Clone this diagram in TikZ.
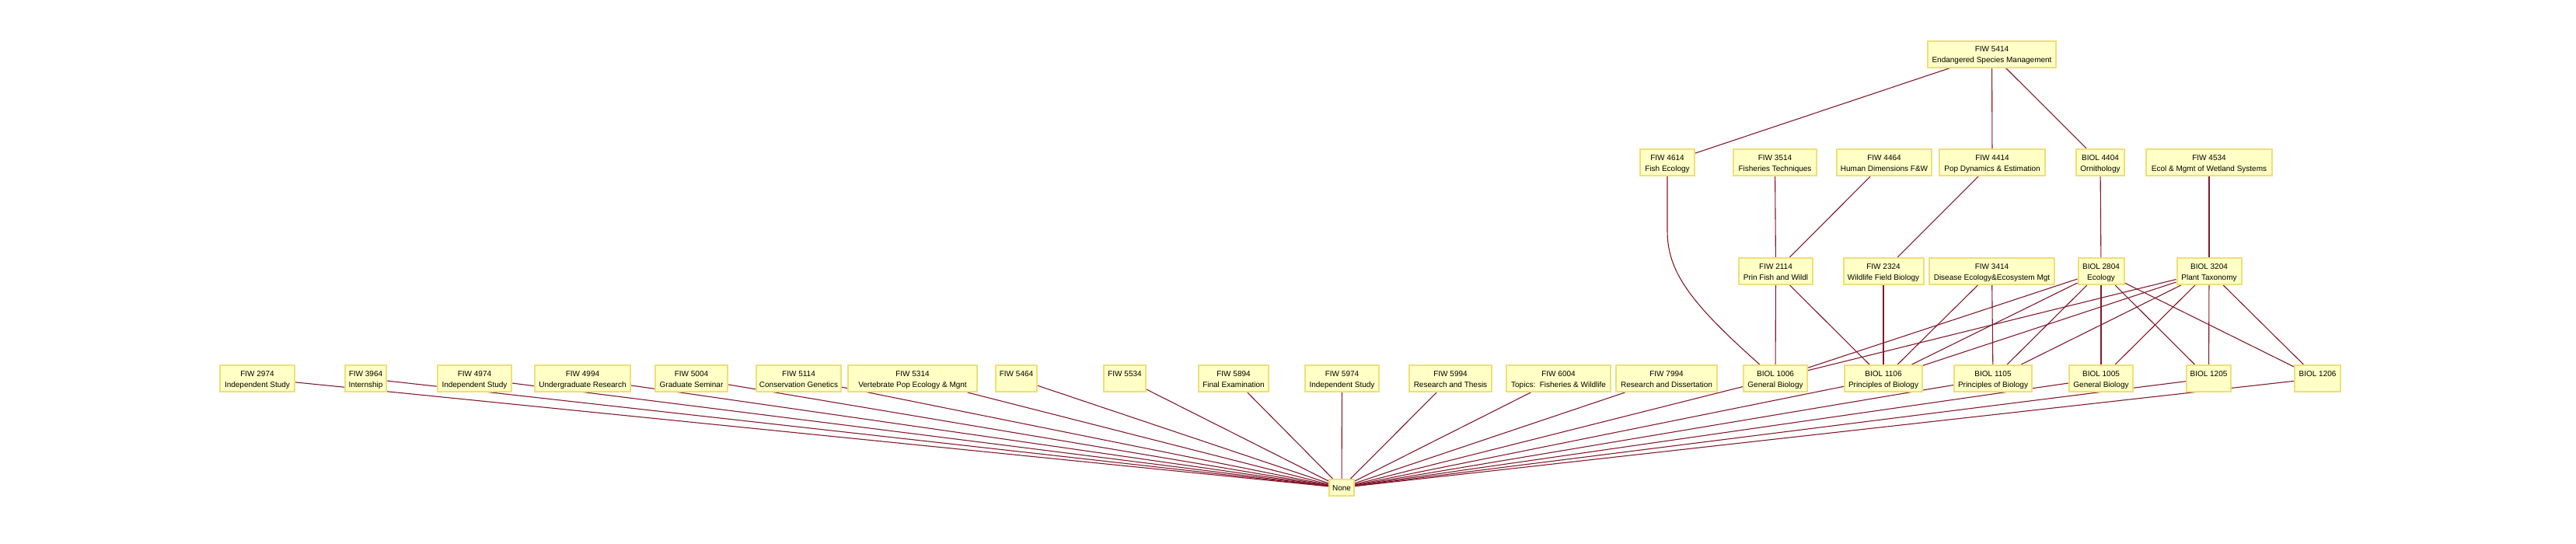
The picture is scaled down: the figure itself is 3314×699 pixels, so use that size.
\documentclass[tikz,border=0pt]{standalone}
\usepackage{fontspec}
\setmainfont{Liberation Sans}
\definecolor{boxfill}{RGB}{255,255,198}
\definecolor{boxline}{RGB}{240,222,120}
\definecolor{edgecol}{RGB}{130,25,45}
\newcommand\cst{\rule[-3pt]{0pt}{14pt}}
\pgfdeclarelayer{background}
\pgfsetlayers{background,main}
\tikzset{
  course/.style={draw=boxline, fill=boxfill, line width=2pt, rectangle, inner sep=0pt,
    minimum height=34pt, align=center, font=\fontsize{10}{14}\selectfont},
  edge/.style={draw=edgecol, line width=1.1pt}
}
\newcommand\crs[6]{\node[course, minimum width=#4pt-2pt] (#1) at (#2,#3) {\cst #5\\\cst #6};}
\begin{document}
\begin{tikzpicture}[x=1pt,y=-1pt]
\useasboundingbox (0,0) rectangle (3314,699);
% top
\crs{f5414}{2562.5}{69.5}{167}{FIW 5414}{Endangered Species Management}
% row 2
\crs{f4614}{2145}{209}{72}{FIW 4614}{Fish Ecology}
\crs{f3514}{2283.5}{209}{109}{FIW 3514}{Fisheries Techniques}
\crs{f4464}{2424}{209}{124}{FIW 4464}{Human Dimensions F\&W}
\crs{f4414}{2563}{209}{138}{FIW 4414}{Pop Dynamics \& Estimation}
\crs{b4404}{2702}{209}{64}{BIOL 4404}{Ornithology}
\crs{f4534}{2842}{209}{164}{FIW 4534}{Ecol \& Mgmt of Wetland Systems}
% row 3
\crs{f2114}{2284.5}{349}{97}{FIW 2114}{Prin Fish and Wildl}
\crs{f2324}{2423}{349}{105}{FIW 2324}{Wildlife Field Biology}
\crs{f3414}{2562.5}{349}{163}{FIW 3414}{Disease Ecology\&Ecosystem Mgt}
\crs{b2804}{2703}{349}{61}{BIOL 2804}{Ecology}
\crs{b3204}{2842}{349}{85}{BIOL 3204}{Plant Taxonomy}
% row 4
\crs{f2974}{331}{487}{98}{FIW 2974}{Independent Study}
\crs{f3964}{470.5}{487}{55}{FIW 3964}{Internship}
\crs{f4974}{610.5}{487}{97}{FIW 4974}{Independent Study}
\crs{f4994}{749.5}{487}{125}{FIW 4994}{Undergraduate Research}
\crs{f5004}{889.5}{487}{95}{FIW 5004}{Graduate Seminar}
\crs{f5114}{1027.5}{487}{111}{FIW 5114}{Conservation Genetics}
\crs{f5314}{1174}{487}{168}{FIW 5314}{Vertebrate Pop Ecology \& Mgnt}
\crs{f5464}{1307.5}{487}{55}{FIW 5464}{}
\crs{f5534}{1447}{487}{56}{FIW 5534}{}
\crs{f5894}{1587}{487}{92}{FIW 5894}{Final Examination}
\crs{f5974}{1726.5}{487}{97}{FIW 5974}{Independent Study}
\crs{f5994}{1866}{487}{108}{FIW 5994}{Research and Thesis}
\crs{f6004}{2005}{487}{136}{FIW 6004}{Topics:\ \ Fisheries \& Wildlife}
\crs{f7994}{2144}{487}{132}{FIW 7994}{Research and Dissertation}
\crs{b1006}{2284}{487}{84}{BIOL 1006}{General Biology}
\crs{b1106}{2423}{487}{102}{BIOL 1106}{Principles of Biology}
\crs{b1105}{2564}{487}{102}{BIOL 1105}{Principles of Biology}
\crs{b1005}{2703}{487}{84}{BIOL 1005}{General Biology}
\crs{b1205}{2841.5}{487}{59}{BIOL 1205}{}
\crs{b1206}{2981.5}{487}{61}{BIOL 1206}{}
% none
\node[course, minimum width=32pt, minimum height=21pt] (none) at (1726,627.5) {\cst None};
% edges
\begin{pgfonlayer}{background}
\draw[edge] (f5414) -- (f4614);
\draw[edge] (f5414) -- (f4414);
\draw[edge] (f5414) -- (b4404);
\draw[edge] (f4614.south) -- ++(0,70) .. controls (2145,350) and (2175,390) .. (b1006);
\draw[edge] (f3514) -- (f2114);
\draw[edge] (f4464) -- (f2114);
\draw[edge] (f4414) -- (f2324);
\draw[edge] (b4404) -- (b2804);
\draw[edge] (f4534) -- (b3204);
\draw[edge] (f2114) -- (b1006);
\draw[edge] (f2114) -- (b1106);
\draw[edge] (f2324) -- (b1106);
\draw[edge] (f3414) -- (b1106);
\draw[edge] (f3414) -- (b1105);
\foreach \t in {b1006,b1106,b1105,b1005,b1205,b1206}{
  \draw[edge] (b2804) -- (\t);
  \draw[edge] (b3204) -- (\t);
}
\foreach \s in {f2974,f3964,f4974,f4994,f5004,f5114,f5314,f5464,f5534,f5894,f5974,f5994,f6004,f7994,b1006,b1106,b1105,b1005,b1205,b1206}{
  \draw[edge] (\s) -- (none);
}
\end{pgfonlayer}
\end{tikzpicture}
\end{document}
